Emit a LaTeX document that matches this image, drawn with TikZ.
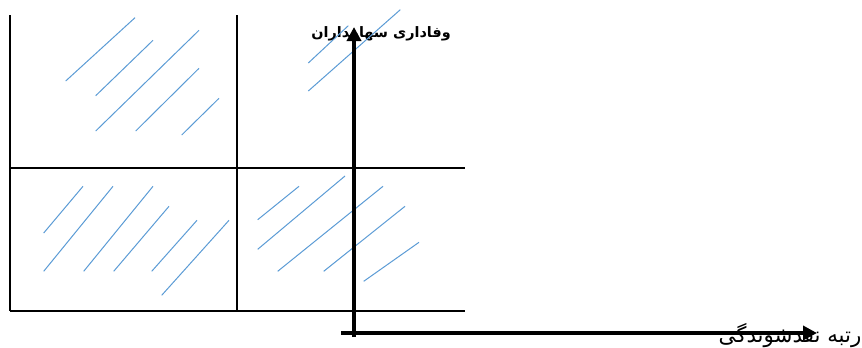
\documentclass[tikz,border=0pt]{standalone}
\usepackage{fontspec}
\newfontfamily\arabicfont[Script=Arabic]{DejaVu Sans}
\TeXXeTstate=1
\usetikzlibrary{arrows.meta}

\definecolor{hatchblue}{RGB}{91,155,213}
\tikzset{every picture/.style={line width=0.75pt}}
\tikzset{
  gridline/.style={line width=1pt},
  hatch/.style={color=hatchblue, line width=0.75pt},
  axisline/.style={line width=3pt, -{Triangle[length=10.5pt,width=10.5pt]}},
  axislabel/.style={inner sep=0.75pt, font=\arabicfont}
}

\begin{document}
\begin{tikzpicture}[x=0.75pt,y=0.75pt,yscale=-1,xscale=1]
\useasboundingbox (0,0) rectangle (862,347);

% Text Node
\node [axislabel, font=\arabicfont\bfseries\fontsize{10.8}{13}\selectfont] (ylabel) at (381,34) {\beginR وفاداری سهامداران\endR};
% Text Node
\node [axislabel, font=\arabicfont\fontsize{16}{19}\selectfont] (xlabel) at (790,336) {\beginR رتبه نقدشوندگی\endR};

%Shape: Grid corners
\coordinate (tl) at (10,15);
\coordinate (tm) at (237,15);
\coordinate (ml) at (10,168);
\coordinate (mr) at (465,168);
\coordinate (bl) at (10,311);
\coordinate (bm) at (237,311);
\coordinate (br) at (465,311);

%Straight Lines
\draw [gridline] (tl) -- (bl) ;
\draw [gridline] (tm) -- (bm) ;
\draw [gridline] (ml) -- (mr) ;
\draw [gridline] (bl) -- (br) ;

%Straight Lines (top left box)
\draw [hatch] (65.7,81) -- (135,17.7) ;
\draw [hatch] (95.7,95.7) -- (153,40.3) ;
\draw [hatch] (95.7,131) -- (199,30.3) ;
\draw [hatch] (135.7,131) -- (199,68.3) ;
\draw [hatch] (181.7,135) -- (219,98.3) ;

%Straight Lines (top right box)
\draw [hatch] (308.3,63) -- (348.3,25.7) ;
\draw [hatch] (308.3,91) -- (400.3,9.7) ;

%Straight Lines (bottom left box)
\draw [hatch] (43.7,233) -- (83,186.3) ;
\draw [hatch] (43.7,271.3) -- (113,186.3) ;
\draw [hatch] (83.7,271.3) -- (153,186.3) ;
\draw [hatch] (113.7,271.3) -- (169,206.3) ;
\draw [hatch] (151.7,271.3) -- (197,220.3) ;
\draw [hatch] (161.7,295.3) -- (229,220.3) ;

%Straight Lines (bottom right box)
\draw [hatch] (257.7,219.7) -- (299,186.3) ;
\draw [hatch] (257.7,249.3) -- (345,176) ;
\draw [hatch] (277.7,271.3) -- (383,186.3) ;
\draw [hatch] (323.7,271.3) -- (405,206.3) ;
\draw [hatch] (363.7,281.3) -- (419,242.3) ;

%Axes
\coordinate (yfoot) at (354,337);
\coordinate (ytip) at (354,27);
\coordinate (xfoot) at (341,333);
\coordinate (xtip) at (817,333);
\draw [axisline] (yfoot) -- (ytip) ;
\draw [axisline] (xfoot) -- (xtip) ;

\end{tikzpicture}
\end{document}
